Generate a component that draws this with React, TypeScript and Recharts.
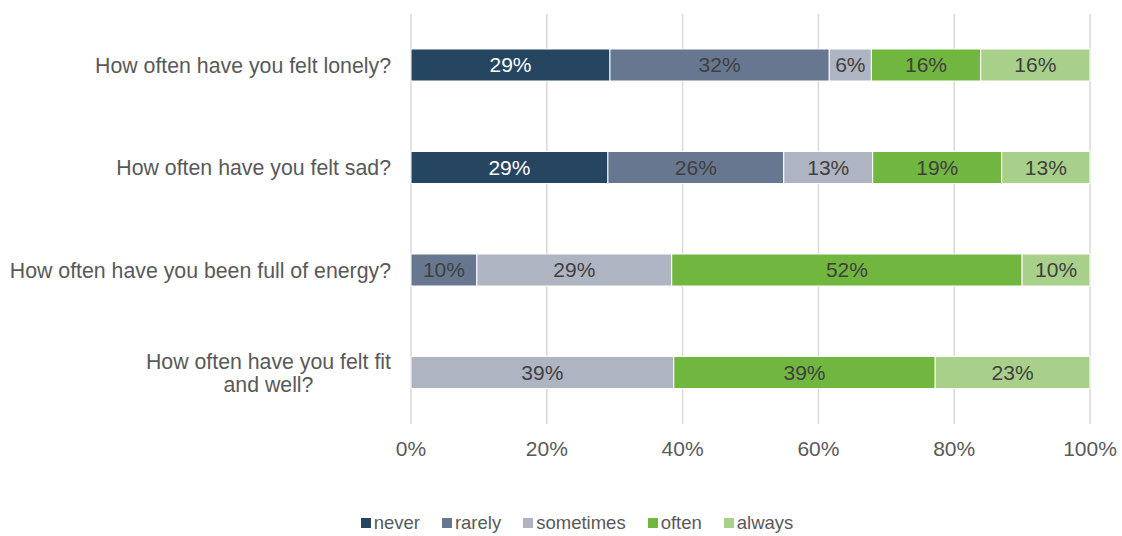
import React from "react"
import { BarChart, Bar, XAxis, YAxis, CartesianGrid, Legend, LabelList } from "recharts"

const questions = [
  "How often have you felt lonely?",
  "How often have you felt sad?",
  "How often have you been full of energy?",
  "How often have you felt fit\nand well?",
]

const never = [29.3, 29.0, 0, 0]
const rarely = [32.3, 25.9, 9.7, 0]
const sometimes = [6.2, 13.1, 28.7, 38.7]
const often = [16.1, 19.0, 51.6, 38.5]
const always = [16.1, 13.0, 10.0, 22.8]

const xTicks = [0, 20, 40, 60, 80, 100]

const seriesNames = ["never", "rarely", "sometimes", "often", "always"]
const seriesColors = ["#264561", "#67778f", "#afb4c2", "#70b63f", "#a8d08a"]
const labelColors = ["#ffffff", "#404040", "#404040", "#404040", "#404040"]

const data = questions.map((q, i) => ({
  question: q,
  never: never[i],
  rarely: rarely[i],
  sometimes: sometimes[i],
  often: often[i],
  always: always[i],
}))

const FONT = '"Liberation Sans", Arial, sans-serif'

let measureCtx: CanvasRenderingContext2D | null = null
function textWidth(s: string, size: number) {
  if (!measureCtx) measureCtx = document.createElement("canvas").getContext("2d")
  if (!measureCtx) return s.length * size * 0.5
  measureCtx.font = `${size}px ${FONT}`
  return measureCtx.measureText(s).width
}

// right-aligned block, lines centred within it (like the original)
function CategoryTick(props: any) {
  const { x, y, payload } = props
  const lines: string[] = String(payload.value).split("\n")
  const size = 21.3
  const lineH = 23
  const maxW = Math.max(...lines.map((l) => textWidth(l, size)))
  const cx = x - maxW / 2
  const startY = y - ((lines.length - 1) * lineH) / 2
  return (
    <g>
      {lines.map((l, i) => (
        <text
          key={i}
          x={cx}
          y={startY + i * lineH}
          dy="0.355em"
          textAnchor="middle"
          fill="#595959"
          fontSize={size}
          fontFamily={FONT}
        >
          {l}
        </text>
      ))}
    </g>
  )
}

function LegendContent() {
  return (
    <div
      style={{
        display: "flex",
        justifyContent: "center",
        gap: 22,
        paddingLeft: 32,
        fontFamily: FONT,
        fontSize: 18.5,
        color: "#595959",
      }}
    >
      {seriesNames.map((n, i) => (
        <div key={n} style={{ display: "flex", alignItems: "center", gap: 3 }}>
          <span style={{ width: 10, height: 10, background: seriesColors[i], display: "inline-block" }} />
          <span>{n}</span>
        </div>
      ))}
    </div>
  )
}

const pct = (v: any) => (v ? `${Math.round(Number(v))}%` : "")

export default function App() {
  return (
    <div style={{ position: "absolute", left: 0, top: 0, background: "#fff" }}>
      <BarChart
        width={1122}
        height={536}
        data={data}
        layout="vertical"
        margin={{ top: 14, right: 32, left: 0, bottom: 60 }}
        barSize={32}
      >
        <CartesianGrid horizontal={false} stroke="#d9d9d9" strokeWidth={1.5} />
        <XAxis
          type="number"
          domain={[0, 100]}
          ticks={xTicks}
          tickFormatter={(v) => `${v}%`}
          axisLine={false}
          tickLine={false}
          tickMargin={11}
          tick={{ fill: "#595959", fontSize: 21, fontFamily: FONT }}
        />
        <YAxis
          type="category"
          dataKey="question"
          width={411}
          axisLine={false}
          tickLine={false}
          tickMargin={14}
          tick={<CategoryTick />}
        />
        <Legend verticalAlign="bottom" wrapperStyle={{ left: 0, width: 1122, bottom: 2 }} content={<LegendContent />} />
        {seriesNames.map((n, i) => (
          <Bar key={n} dataKey={n} stackId="a" fill={seriesColors[i]} stroke="#ffffff" strokeWidth={1} isAnimationActive={false}>
            <LabelList
              dataKey={n}
              position="center"
              formatter={pct}
              fill={labelColors[i]}
              fontSize={21}
              fontFamily={FONT}
            />
          </Bar>
        ))}
      </BarChart>
    </div>
  )
}
